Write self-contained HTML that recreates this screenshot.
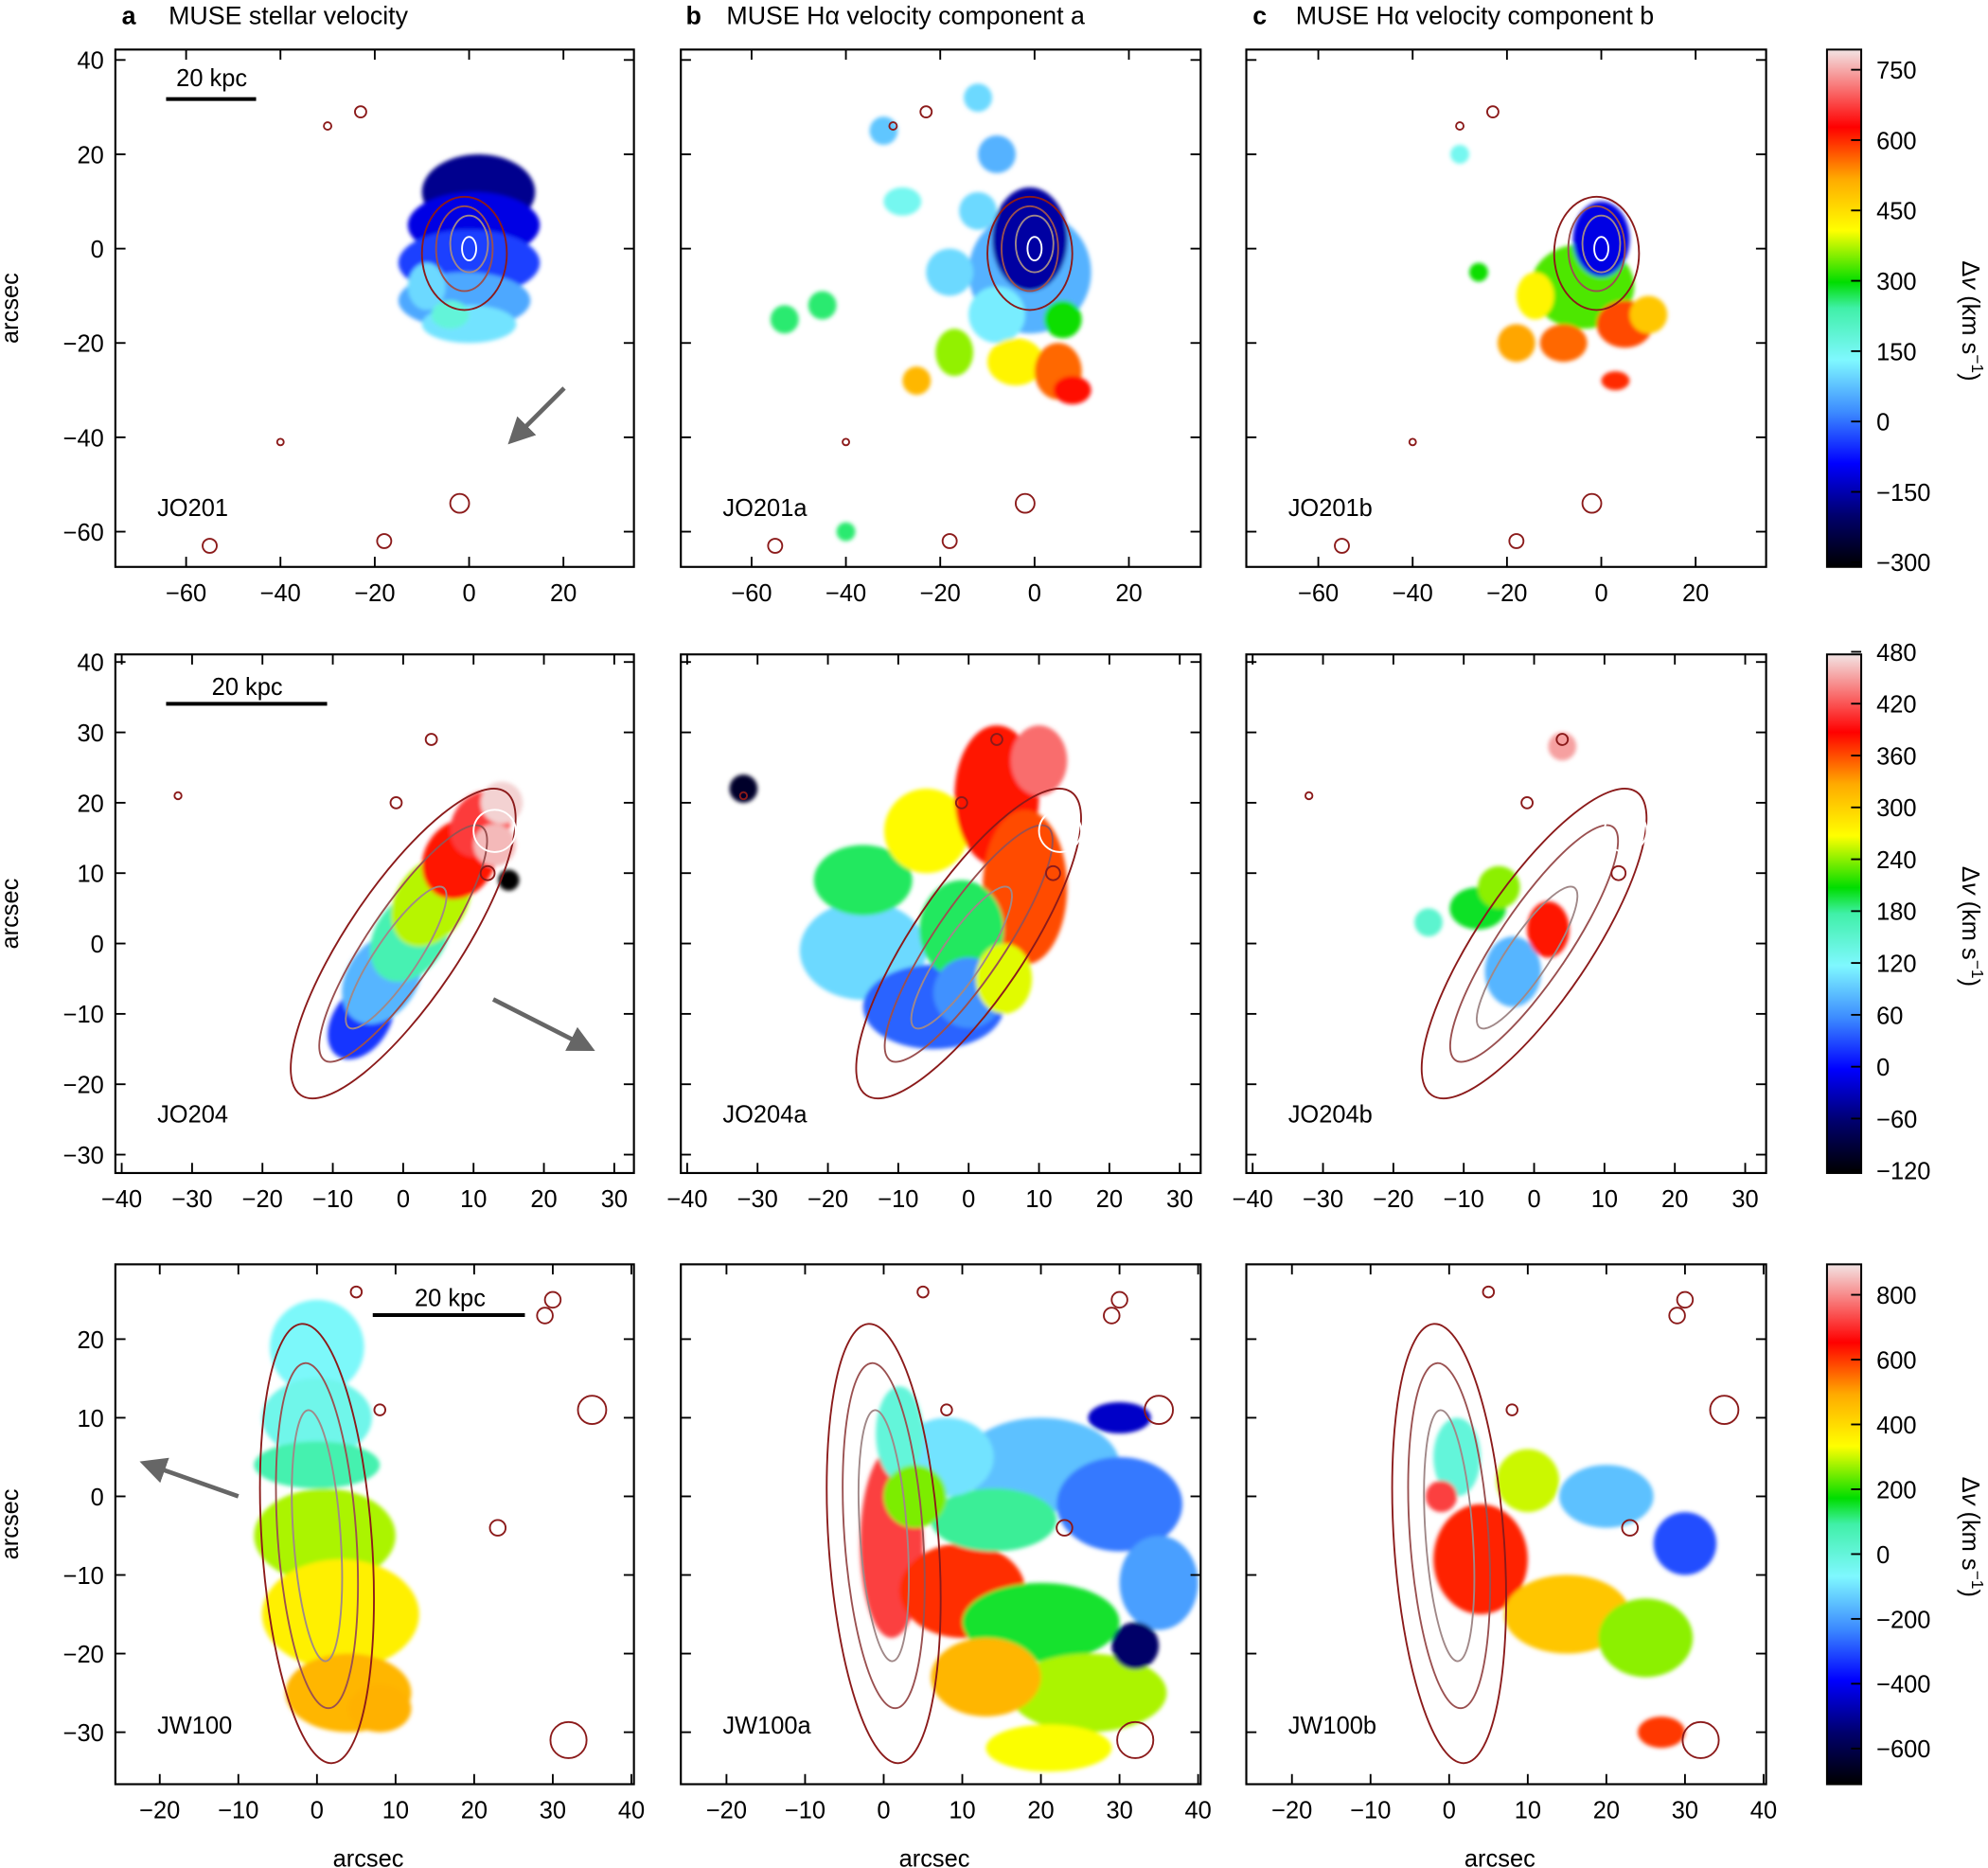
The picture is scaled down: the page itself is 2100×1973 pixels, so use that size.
<!DOCTYPE html>
<html><head><meta charset="utf-8"><style>
html,body{margin:0;padding:0;background:#fff;}
svg{display:block;font-family:"Liberation Sans",Arial,sans-serif;}
</style></head><body>
<svg id="fig" xmlns="http://www.w3.org/2000/svg" width="2100" height="1973" viewBox="0 0 1568 1473">
<defs>
<linearGradient id="cmap" x1="0" y1="1" x2="0" y2="0">
<stop offset="0" stop-color="#000000"/><stop offset="0.1" stop-color="#00006e"/><stop offset="0.2" stop-color="#0000ff"/><stop offset="0.3" stop-color="#3d8cff"/><stop offset="0.4" stop-color="#7ff8ff"/><stop offset="0.5" stop-color="#40f0a8"/><stop offset="0.55" stop-color="#00dd00"/><stop offset="0.65" stop-color="#ffff00"/><stop offset="0.75" stop-color="#ffaa00"/><stop offset="0.85" stop-color="#ff0000"/><stop offset="1" stop-color="#f2e4e4"/>
</linearGradient>
<filter id="soft"><feGaussianBlur stdDeviation="1.5"/></filter>
<marker id="ah" markerWidth="6" markerHeight="6" refX="3" refY="3" orient="auto"><path d="M0,0 L6,3 L0,6 z" fill="#666"/></marker>
</defs>
<g id="root"></g>
</svg>
<script>
// ---------- data ----------
const rowXTicks = [[-60,-40,-20,0,20],[-40,-30,-20,-10,0,10,20,30],[-20,-10,0,10,20,30,40]];
const rowYTicks = [[40,20,0,-20,-40,-60],[40,30,20,10,0,-10,-20,-30],[20,10,0,-10,-20,-30]];
const cbarTicks = [[750,600,450,300,150,0,-150,-300],[480,420,360,300,240,180,120,60,0,-60,-120],[800,600,400,200,0,-200,-400,-600]];
const cbarRange = [[-310,793],[-123,477],[-710,894]];
const panelNames = [["JO201","JO201a","JO201b"],["JO204","JO204a","JO204b"],["JW100","JW100a","JW100b"]];
// blobs: [x, y, rx, ry, rotation, velocity]
const blobsJO201 = [[2,12,12,8,0,-175],[1,5,14,7,0,-110],[0,-3,15,7,0,-40],[-1,-11,14,6,0,50],[-9,-8,4,5,0,100],[0,-16,10,4,0,110],[-4,-14,4,3,0,180]];
const blobsJO201a = [[-1,-5,13,13,0,60],[-1,2,8,11,0,-160],[-8,-14,6,6,0,120],[-4,-24,6,5,0,420],[5,-26,5,6,0,560],[-18,-5,5,5,0,100],[-28,10,4,3,0,150],[-45,-12,3,3,0,260],[-17,-22,4,5,0,360],[8,-30,4,3,0,620],[-32,25,3,3,0,80],[-12,32,3,3,0,100],[-53,-15,3,3,0,260],[-8,20,4,4,0,60],[6,-15,4,4,0,300],[-25,-28,3,3,0,500],[-40,-60,2,2,0,260],[-12,8,4,4,0,100]];
const blobsJO201b = [[-4,-8,11,9,0,330],[0,2,6,8,0,-110],[5,-16,6,5,0,580],[-14,-10,4,5,0,420],[-18,-20,4,4,0,520],[10,-14,4,4,0,480],[-8,-20,5,4,0,560],[-26,-5,2,2,0,300],[-30,20,2,2,0,150],[3,-28,3,2,0,600]];
const blobsJO204 = [[-6,-11,6,4,-56,20],[-3,-5,7,5,-56,80],[1,1,7,5,-56,170],[4,6,7,5,-56,250],[8,12,6,5,-56,380],[11,17,5,4,-56,410],[14,20,3,3,0,470],[13,14,3,3,0,460],[15,9,1.5,1.5,0,-120]];
const blobsJO204a = [[-15,-1,9,7,0,100],[-5,-9,10,6,0,40],[-15,9,7,5,0,190],[-6,16,6,6,0,270],[4,21,6,10,0,380],[8,8,6,11,0,360],[10,26,4,5,0,430],[-1,2,6,7,0,190],[0,-7,5,5,0,60],[-32,22,2,2,0,-100],[5,-5,4,5,0,260]];
const blobsJO204b = [[-3,-4,4,5,0,80],[2,2,3,4,0,380],[-8,5,4,3,0,200],[-5,8,3,3,0,240],[4,28,2,2,0,450],[-15,3,2,2,0,150]];
const blobsJW100 = [[0,19,6,6,0,-60],[0,10,7,5,0,-30],[0,4,8,3,0,80],[1,-5,9,6,0,280],[3,-15,10,7,0,360],[4,-25,8,5,0,470],[8,-27,4,3,0,480]];
const blobsJW100a = [[1,-6,4,12,0,720],[10,-12,8,6,0,610],[20,4,10,6,0,-150],[30,-1,8,6,0,-250],[14,-3,8,4,0,100],[20,-16,10,5,0,150],[26,-25,10,5,0,280],[13,-23,7,5,0,470],[8,5,6,5,0,-100],[35,-11,5,6,0,-200],[32,-19,3,3,0,-560],[21,-32,8,3,0,330],[2,8,3,6,0,0],[4,0,4,4,0,250],[30,10,4,2,0,-450]];
const blobsJW100b = [[4,-8,6,7,0,620],[15,-15,8,5,0,440],[25,-18,6,5,0,260],[20,0,6,4,0,-150],[1,5,3,5,0,0],[30,-6,4,4,0,-300],[10,2,4,4,0,300],[-1,0,2,2,0,720],[27,-30,3,2,0,600]];
const rowBlobs = [[blobsJO201,blobsJO201a,blobsJO201b],[blobsJO204,blobsJO204a,blobsJO204b],[blobsJW100,blobsJW100a,blobsJW100b]];
// contours per row: [x, y, rx, ry, rotation]
const contours = [[[-1,-1,9,12,0],[-1,0,6,9,0],[0,1,4,6,0],[0,0,1.5,2.5,0]],
                  [[0,0,8,26,34],[0,0,5,20,34],[-1,-2,3,12,34],[13,16,3,3,0]],
                  [[0,-6,7,28,-4],[0,-5,5,22,-4],[0,-5,3,16,-4]]];
const stars = [[[-23,29,1.2],[-30,26,0.8],[-40,-41,0.7],[-2,-54,2],[-18,-62,1.5],[-55,-63,1.5]],
               [[4,29,0.8],[-32,21,0.5],[-1,20,0.8],[12,10,1]],
               [[5,26,0.7],[30,25,1],[29,23,1],[35,11,1.8],[23,-4,1],[32,-31,2.3],[8,11,0.7]]];

// ---------- layout ----------
const NS="http://www.w3.org/2000/svg";
const root=document.getElementById('root');
const colX=[[91,500],[537,947],[983,1393]];
const rowY=[[39,447],[516,925],[997,1407]];
const zeroX=[[370,816,1263],[318,764,1210],[250,697,1143]];
const zeroY=[196,744,1180];
const pxPer=[3.72,5.55,6.2];
const cbX=[1441,1468];
function mk(tag,attrs,parent){const e=document.createElementNS(NS,tag);for(const k in attrs)e.setAttribute(k,attrs[k]);(parent||root).appendChild(e);return e;}
const stops=[[0,[0,0,0]],[0.1,[0,0,110]],[0.2,[0,0,255]],[0.3,[61,140,255]],[0.4,[127,248,255]],[0.5,[64,240,168]],[0.55,[0,221,0]],[0.65,[255,255,0]],[0.75,[255,170,0]],[0.85,[255,0,0]],[1,[242,228,228]]];
function cmap(v,r){const f=Math.max(0,Math.min(1,(v-cbarRange[r][0])/(cbarRange[r][1]-cbarRange[r][0])));
 for(let i=1;i<stops.length;i++){if(f<=stops[i][0]){const a=stops[i-1],b=stops[i],t=(f-a[0])/(b[0]-a[0]);
 return 'rgb('+a[1].map((c,j)=>Math.round(c+(b[1][j]-c)*t)).join(',')+')';}}return 'rgb(242,228,228)';}

for(let r=0;r<3;r++){
 const k=pxPer[r];
 for(let c=0;c<3;c++){
  const X=v=>zeroX[r][c]+k*v, Y=v=>zeroY[r]-k*v;
  const g=mk('g',{});
  
  
  const clipId='clip'+r+c;
  const cp=mk('clipPath',{id:clipId},g);
  mk('rect',{x:colX[c][0],y:rowY[r][0],width:colX[c][1]-colX[c][0],height:rowY[r][1]-rowY[r][0]},cp);
  const inner=mk('g',{'clip-path':'url(#'+clipId+')'},g);
  const bg=mk('g',{filter:'url(#soft)'},inner);
  rowBlobs[r][c].forEach(b=>{
   const e=mk('ellipse',{cx:X(b[0]),cy:Y(b[1]),rx:b[2]*k,ry:b[3]*k,fill:cmap(b[5],r),transform:'rotate('+b[4]+' '+X(b[0])+' '+Y(b[1])+')'},bg);
   
   
  });
  const cols=['#8b1a1a','#9a5050','#a08888','#ffffff'];
  contours[r].forEach((ct,i)=>{
   const e=mk('ellipse',{cx:X(ct[0]),cy:Y(ct[1]),rx:ct[2]*k,ry:ct[3]*k,fill:'none',stroke:cols[Math.min(i,3)],'stroke-width':1.4,transform:'rotate('+ct[4]+' '+X(ct[0])+' '+Y(ct[1])+')'},inner);
   
   
  });
  stars[r].forEach(s=>{
   const e=mk('circle',{cx:X(s[0]),cy:Y(s[1]),r:s[2]*k,fill:'none',stroke:'#8b1a1a','stroke-width':1.4},inner);
   
   
  });
  const fr=mk('rect',{x:colX[c][0],y:rowY[r][0],width:colX[c][1]-colX[c][0],height:rowY[r][1]-rowY[r][0],fill:'none',stroke:'#000','stroke-width':1.6},g);
  
  
  rowXTicks[r].forEach(t=>{const x=X(t);
   mk('line',{x1:x,x2:x,y1:rowY[r][1],y2:rowY[r][1]-8,stroke:'#000','stroke-width':1.4},g);
   mk('line',{x1:x,x2:x,y1:rowY[r][0],y2:rowY[r][0]+8,stroke:'#000','stroke-width':1.4},g);
   const tx=mk('text',{x:x,y:rowY[r][1]+27,'font-size':19,'text-anchor':'middle'},g);tx.textContent=String(t).replace('-','\u2212');
   
   
  });
  rowYTicks[r].forEach(t=>{const y=Y(t);
   mk('line',{x1:colX[c][0],x2:colX[c][0]+8,y1:y,y2:y,stroke:'#000','stroke-width':1.4},g);
   mk('line',{x1:colX[c][1],x2:colX[c][1]-8,y1:y,y2:y,stroke:'#000','stroke-width':1.4},g);
   if(c===0){const tx=mk('text',{x:colX[c][0]-9,y:y+7,'font-size':19,'text-anchor':'end'},g);tx.textContent=String(t).replace('-','\u2212');
    
    }
  });
  const nl=mk('text',{x:colX[c][0]+33,y:rowY[r][1]-40,'font-size':19},g);nl.textContent=panelNames[r][c];
  
  
  if(r===2){const at=mk('text',{x:(colX[c][0]+colX[c][1])/2-5,y:1472,'font-size':19,'text-anchor':'middle'},g);at.textContent='arcsec';
   
   }
 }
 const yt=mk('text',{x:0,y:0,'font-size':19,'text-anchor':'middle',transform:'translate(14 '+((rowY[r][0]+rowY[r][1])/2)+') rotate(-90)'});yt.textContent='arcsec';
 
 
 // colorbar
 const cb=mk('g',{});
 
 
 mk('rect',{x:cbX[0],y:rowY[r][0],width:cbX[1]-cbX[0],height:rowY[r][1]-rowY[r][0],fill:'url(#cmap)',stroke:'#000','stroke-width':1.5},cb);
 const CY=v=>rowY[r][1]-(v-cbarRange[r][0])/(cbarRange[r][1]-cbarRange[r][0])*(rowY[r][1]-rowY[r][0]);
 cbarTicks[r].forEach(t=>{const y=CY(t);
  mk('line',{x1:cbX[1]-8,x2:cbX[1],y1:y,y2:y,stroke:'#000','stroke-width':1.4},cb);
  const tx=mk('text',{x:cbX[1]+12,y:y+7,'font-size':19},cb);tx.textContent=String(t).replace('-','\u2212');
  
  
 });
 const cl=mk('text',{x:0,y:0,'font-size':19,'text-anchor':'middle',transform:'translate(1548 '+((rowY[r][0]+rowY[r][1])/2+10)+') rotate(90)'},cb);
 cl.innerHTML='\u0394<tspan font-style="italic">v</tspan> (km s<tspan baseline-shift="super" font-size="13">\u22121</tspan>)';
 
 
}
// titles
const titles=[['a','MUSE stellar velocity',96,133],['b','MUSE H\u03b1 velocity component a',541,573],['c','MUSE H\u03b1 velocity component b',988,1022]];
titles.forEach(t=>{const l=mk('text',{x:t[2],y:19,'font-size':20,'font-weight':'bold'});l.textContent=t[0];
 
 
 const s=mk('text',{x:t[3],y:19,'font-size':20});s.textContent=t[1];
 
 });
// scale bars
const bars=[[131,202,78,167,68],[131,258,555,195,548],[294,414,1037,355,1030]];
bars.forEach(b=>{const l=mk('line',{x1:b[0],x2:b[1],y1:b[2],y2:b[2],stroke:'#000','stroke-width':3});
 
 
 const t=mk('text',{x:b[3],y:b[4],'font-size':19,'text-anchor':'middle'});t.textContent='20 kpc';
 
 });
// arrows
const arrows=[[445,306,408,343],[389,788,460,824],[188,1180,120,1156]];
arrows.forEach(a=>{const l=mk('line',{x1:a[0],y1:a[1],x2:a[2],y2:a[3],stroke:'#666','stroke-width':3.5,'marker-end':'url(#ah)'});
 
 });
</script>
</body></html>
